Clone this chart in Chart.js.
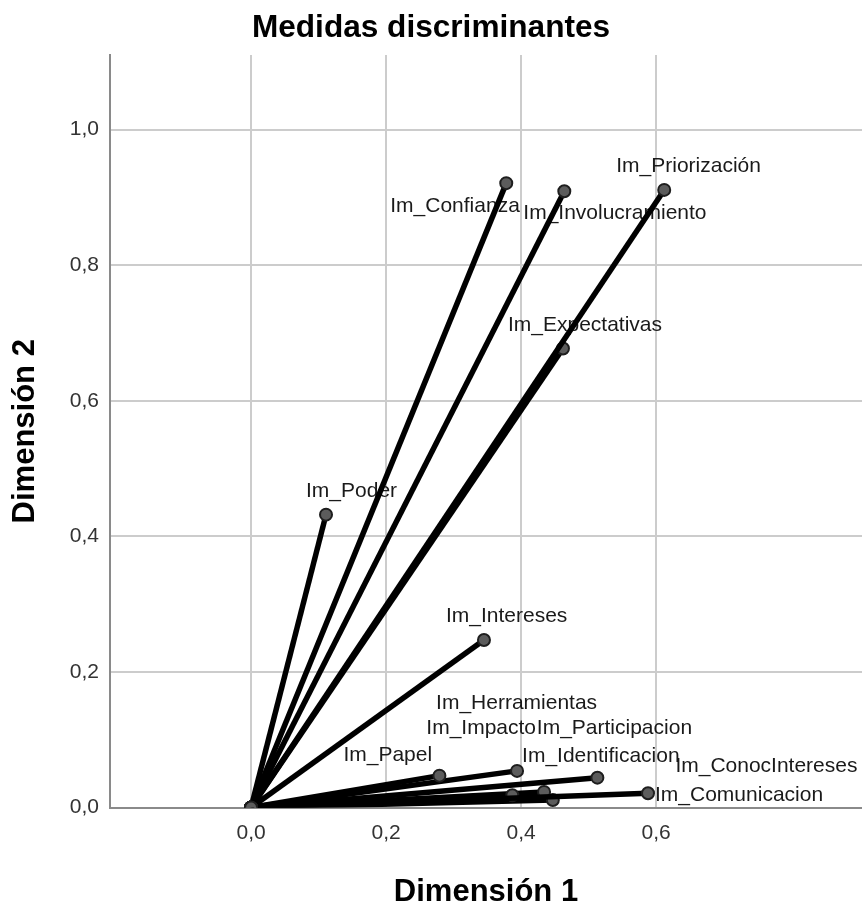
<!DOCTYPE html>
<html lang="es">
<head>
  <meta charset="UTF-8" />
  <title>Medidas discriminantes</title>
  <style>
    body { margin: 0; background: #ffffff; }
    #chart { display: block; }
  </style>
</head>
<body>
  <canvas id="chart" width="862" height="905"></canvas>

  <script src="https://cdn.jsdelivr.net/npm/chart.js"></script>
  <script>
    // variables y coordenadas (dimension 1, dimension 2)
    const names = ['Im_Confianza', 'Im_Involucramiento', 'Im_Priorización', 'Im_Expectativas',
      'Im_Poder', 'Im_Intereses', 'Im_Papel', 'Im_Identificacion', 'Im_ConocIntereses',
      'Im_Comunicacion', 'Im_Impacto', 'Im_Herramientas', 'Im_Participacion'];
    const dim1 = [0.378, 0.464, 0.612, 0.462, 0.111, 0.345, 0.279, 0.394, 0.513, 0.588, 0.387, 0.434, 0.447];
    const dim2 = [0.921, 0.909, 0.911, 0.677, 0.432, 0.247, 0.047, 0.054, 0.044, 0.021, 0.018, 0.023, 0.011];

    const xTicks = [0, 0.2, 0.4, 0.6];
    const yTicks = [0, 0.2, 0.4, 0.6, 0.8, 1.0];

    // donde va cada etiqueta respecto a su punto (px)
    const labelOffsets = [[-116, 23], [-41, 22], [-48, -24], [-55, -23], [-20, -23], [-38, -24],
      [-96, -20], [5, -15], [78, -11], [7, 2], [-86, -67], [-108, -89], [-16, -72]];

    const fmt = v => v.toFixed(1).replace('.', ',');
    const FONT = '"Liberation Sans", Arial, sans-serif';

    const datasets = names.map((n, i) => ({
      label: n,
      data: [{ x: 0, y: 0 }, { x: dim1[i], y: dim2[i] }],
      showLine: true,
      borderColor: '#000000',
      borderWidth: 5.5,
      pointRadius: 6,
      pointBackgroundColor: '#5c5c5c',
      pointBorderColor: '#1e1e1e',
      pointBorderWidth: 2
    }));

    const pointLabels = {
      id: 'pointLabels',
      beforeDatasetsDraw(chart) {
        const ctx = chart.ctx;
        ctx.save();
        ctx.font = '21px ' + FONT;
        ctx.fillStyle = '#1a1a1a';
        ctx.textAlign = 'left';
        ctx.textBaseline = 'middle';
        names.forEach((n, i) => {
          const pt = chart.getDatasetMeta(i).data[1];
          ctx.fillText(n, pt.x + labelOffsets[i][0], pt.y + labelOffsets[i][1]);
        });
        ctx.restore();
      }
    };

    const ctx = document.getElementById('chart').getContext('2d');
    const chart = new Chart(ctx, {
      type: 'scatter',
      data: { datasets: datasets },
      plugins: [pointLabels],
      options: {
        responsive: false,
        animation: false,
        devicePixelRatio: 1,
        layout: { padding: 0, autoPadding: false },
        plugins: {
          legend: { display: false },
          tooltip: { enabled: false },
          title: {
            display: true,
            text: 'Medidas discriminantes',
            color: '#000000',
            font: { family: FONT, size: 31.6, weight: 'bold', lineHeight: 1 },
            padding: { top: 12.5, bottom: 10.9 }
          }
        },
        scales: {
          x: {
            type: 'linear',
            min: -0.209,
            max: 0.905,
            afterBuildTicks: s => { s.ticks = xTicks.map(v => ({ value: v })); },
            afterFit: s => { s.height = 97.5; s.paddingLeft = 0; s.paddingRight = 0; },
            ticks: {
              callback: v => fmt(v),
              color: '#333333',
              padding: 13,
              maxRotation: 0,
              autoSkip: false,
              font: { family: FONT, size: 21 }
            },
            grid: { color: '#cccccc', lineWidth: 2, drawTicks: false },
            border: { color: '#8a8a8a', width: 2 },
            title: {
              display: true,
              text: 'Dimensión 1',
              color: '#000000',
              font: { family: FONT, size: 31, weight: 'bold', lineHeight: 1 },
              padding: { top: 0, bottom: -2.5 }
            }
          },
          y: {
            type: 'linear',
            min: 0,
            max: 1.11,
            afterBuildTicks: s => { s.ticks = yTicks.map(v => ({ value: v })); },
            afterFit: s => { s.width = 110; s.paddingTop = 0; s.paddingBottom = 0; },
            ticks: {
              callback: v => fmt(v),
              color: '#333333',
              padding: 11,
              autoSkip: false,
              font: { family: FONT, size: 21 }
            },
            grid: { color: '#cccccc', lineWidth: 2, drawTicks: false },
            border: { color: '#8a8a8a', width: 2 },
            title: {
              display: true,
              text: 'Dimensión 2',
              color: '#000000',
              font: { family: FONT, size: 31, weight: 'bold', lineHeight: 1 },
              padding: { top: 10, bottom: 0 }
            }
          }
        }
      }
    });
  </script>
</body>
</html>
